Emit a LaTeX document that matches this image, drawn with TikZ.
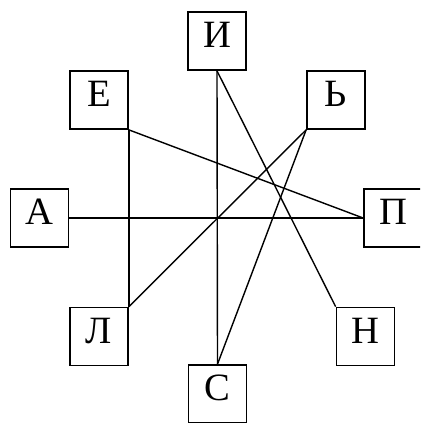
\documentclass[tikz,border=0pt]{standalone}
\usepackage{fontspec}
\setmainfont{Liberation Serif}
\usepackage{tikz}
\usetikzlibrary{positioning}

\begin{document}
\begin{tikzpicture}[
  x=0.02cm, y=-0.02cm,
  letter/.style={
    draw, line width=1pt,
    minimum size=1.16cm,
    inner sep=0pt,
    text height=0.48cm, text depth=0.22cm,
    font=\fontsize{22}{24}\selectfont
  },
  link/.style={line width=0.8pt}]

% frame of the picture
\useasboundingbox (0,0) rectangle (420,423);
\clip (0,0) rectangle (420,423);

% letters round the centre
\node[letter] (i)  at (217,41)  {И};
\node[letter] (e)  at (99,100)  {Е};
\node[letter] (mz) at (336,100) {Ь};
\node[letter] (a)  at (39.5,218) {А};
\node[letter] (p)  at (393,218) {П};
\node[letter] (l)  at (99,336.5) {Л};
\node[letter] (n)  at (365.5,336.5) {Н};
\node[letter] (s)  at (217.5,394) {С};

% links between letters
\draw[link] (a.east) -- (p.west);
\draw[link] (i.south) -- (s.north);
\draw[link] (e.south east) -- (p.west);
\draw[link] (e.south east) -- (l.north east);
\draw[link] (i.south) -- (n.north west);
\draw[link] (mz.south west) -- (l.north east);
\draw[link] (mz.south west) -- (s.north);

\end{tikzpicture}
\end{document}
